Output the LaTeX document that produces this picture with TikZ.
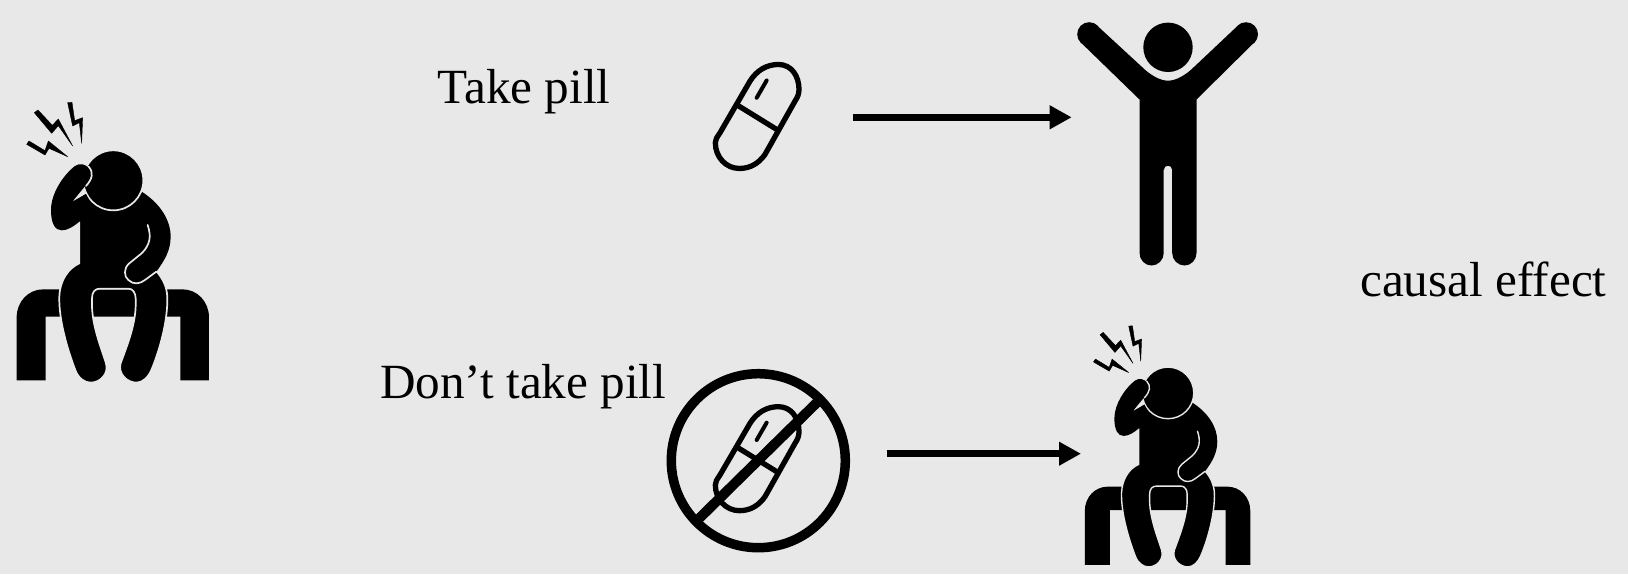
\documentclass[tikz,border=0pt]{standalone}
\usepackage{fontspec}
\setmainfont{Liberation Serif}
\usetikzlibrary{arrows.meta}
\definecolor{bgc}{HTML}{E8E8E8}
\tikzset{
  pilllabel/.style={anchor=base west,inner sep=0pt,text=black,font=\fontsize{49.2pt}{49.2pt}\selectfont},
  flow/.style={line width=7.3pt,-{Triangle[length=22pt,width=22.5pt]}},
  capsule/.style={line width=5.3pt,draw=black,line join=round}
}
\newcommand{\pillicon}[2]{%
  \begin{scope}[shift={(#1pt,-#2pt)},x=0.3333pt,y=-0.3333pt]
    \draw[capsule] (60,225) -- (150,70) .. controls (170,38) and (200,20) .. (235,20)
      .. controls (275,20) and (297,55) .. (297,95) .. controls (297,108) and (293,118) .. (285,130)
      -- (195,290) .. controls (175,318) and (150,332) .. (118,332)
      .. controls (78,332) and (46,298) .. (46,255) .. controls (46,245) and (50,240) .. (60,225) -- cycle;
    \draw[capsule] (112,142) -- (235,218);
    \draw[line width=4pt,line cap=round] (200,68) -- (170,120);
  \end{scope}}
\newcommand{\sitter}[4]{%
  \begin{scope}[shift={(#1pt,-#2pt)},x=#3pt,y=-#3pt,line join=round]
    % bench
    \fill (50,901) -- (50,712) .. controls (50,665) and (85,628) .. (130,628) -- (547,628)
      .. controls (592,628) and (627,665) .. (627,712) -- (627,901) -- (541,901) -- (541,710)
      -- (137,710) -- (137,901) -- cycle;
    % torso and legs
    \filldraw[draw=bgc,line width=#4pt] (238,420) -- (238,550)
      .. controls (205,565) and (180,600) .. (178,650)
      .. controls (176,720) and (203,810) .. (226,870)
      .. controls (235,895) and (254,908) .. (272,908)
      .. controls (302,908) and (327,880) .. (318,850)
      .. controls (302,800) and (278,740) .. (276,680)
      -- (276,655) .. controls (276,636) and (285,626) .. (300,626)
      -- (385,626) .. controls (398,626) and (407,638) .. (407,655)
      -- (407,680) .. controls (405,740) and (380,800) .. (362,850)
      .. controls (353,880) and (380,908) .. (410,908)
      .. controls (428,908) and (446,891) .. (455,868)
      .. controls (480,808) and (504,720) .. (502,650)
      .. controls (500,620) and (490,598) .. (469,573)
      -- (430,340) -- (300,320) -- (258,338) -- (217,365) -- cycle;
    % right arm
    \fill (425,335) .. controls (480,370) and (512,420) .. (512,470)
      .. controls (512,510) and (495,540) .. (469,575)
      -- (435,600) .. controls (420,612) and (400,615) .. (385,600)
      .. controls (372,590) and (370,565) .. (388,550)
      -- (425,520) .. controls (450,495) and (455,470) .. (443,435) -- (400,380) -- cycle;
    \draw[bgc,line width=#4pt,line cap=round] (443,435) .. controls (455,470) and (450,495) .. (425,520)
      -- (388,550) .. controls (370,565) and (372,590) .. (385,600)
      .. controls (400,615) and (420,612) .. (435,600) -- (469,575);
    % gap beside the fist
    \fill[bgc] (217,365) -- (262,310) -- (300,330) -- (258,338) -- cycle;
    % head
    \filldraw[draw=bgc,line width=#4pt] (340,301) circle[x radius=90,y radius=90];
    % left arm
    \fill (238,425) .. controls (220,440) and (203,451) .. (185,451)
      .. controls (165,451) and (153,430) .. (153,390)
      .. controls (153,340) and (190,285) .. (225,258)
      .. controls (240,248) and (255,252) .. (268,265)
      .. controls (280,280) and (275,295) .. (262,310) -- (217,365) -- (258,342) -- (300,420) -- cycle;
    \draw[bgc,line width=#4pt,line cap=round] (266,260) .. controls (282,278) and (277,297) .. (258,318);
    % lightning
    \filldraw[line width=0.4pt] (203,68) -- (216,67) -- (224,122) -- (248,113) -- (245,190) -- (238,128) -- (218,138) -- cycle;
    \filldraw[line width=0.4pt] (103,98) -- (114,90) -- (157,136) -- (175,117) -- (218,198) -- (175,137) -- (155,160) -- cycle;
    \filldraw[line width=0.4pt] (80,193) -- (87,183) -- (135,212) -- (145,183) -- (203,230) -- (147,205) -- (135,225) -- cycle;
  \end{scope}}
\begin{document}
\begin{tikzpicture}[x=1pt,y=-1pt]
  \fill[bgc] (0,0) rectangle (1628,574);
  \useasboundingbox (0,0) rectangle (1628,574);

  \sitter{0}{80}{0.3333}{1.7}
  \sitter{1070.5}{306.6}{0.2867}{1.4}

  % texts
  \node[pilllabel] (take) at (437.5,103.3) {Take pill};
  \node[pilllabel] (dont) at (380,398.3) {Don’t take pill};
  \node[pilllabel] (effect) at (1360,296) {causal effect};

  % pills
  \pillicon{700}{57.8}
  \pillicon{700}{400}
  % forbidden sign
  \node[circle,draw,line width=9.5pt,minimum size=174pt,inner sep=0pt] (ban) at (758.3,460.7) {};
  \draw[line width=10pt] (695.5,522) -- (819,400.5);

  % happy person
  \fill (1139.5,99.5) -- (1080,41.7) -- (1098.3,26.7) -- (1141.7,66.7)
    .. controls (1150,75) and (1160,80.7) .. (1168,80.7)
    .. controls (1176,80.7) and (1186,75) .. (1194.3,66.7) -- (1236.7,26.7)
    -- (1255,41.7) -- (1196.5,99.5) -- (1196.5,253)
    .. controls (1196.5,260) and (1191,265.5) .. (1184.5,265.5)
    .. controls (1178,265.5) and (1172.2,260) .. (1172.2,253) -- (1172.2,170)
    .. controls (1172.2,167) and (1170,165.7) .. (1168,165.7)
    .. controls (1166,165.7) and (1163.7,167) .. (1163.7,170) -- (1163.7,253)
    .. controls (1163.7,260) and (1158,265.5) .. (1151.6,265.5)
    .. controls (1145,265.5) and (1139.5,260) .. (1139.5,253) -- cycle;
  \fill (1089.2,34.2) circle[x radius=12,y radius=12];
  \fill (1246,34.2) circle[x radius=12,y radius=12];
  \fill (1168,47.3) circle[x radius=24.7,y radius=24.7];

  % arrows
  \coordinate (a1s) at (853,117.3);
  \coordinate (a1e) at (1071.7,117.3);
  \coordinate (a2s) at (886.5,453.7);
  \coordinate (a2e) at (1081,453.7);
  \draw[flow] (a1s) -- (a1e);
  \draw[flow] (a2s) -- (a2e);
\end{tikzpicture}
\end{document}
